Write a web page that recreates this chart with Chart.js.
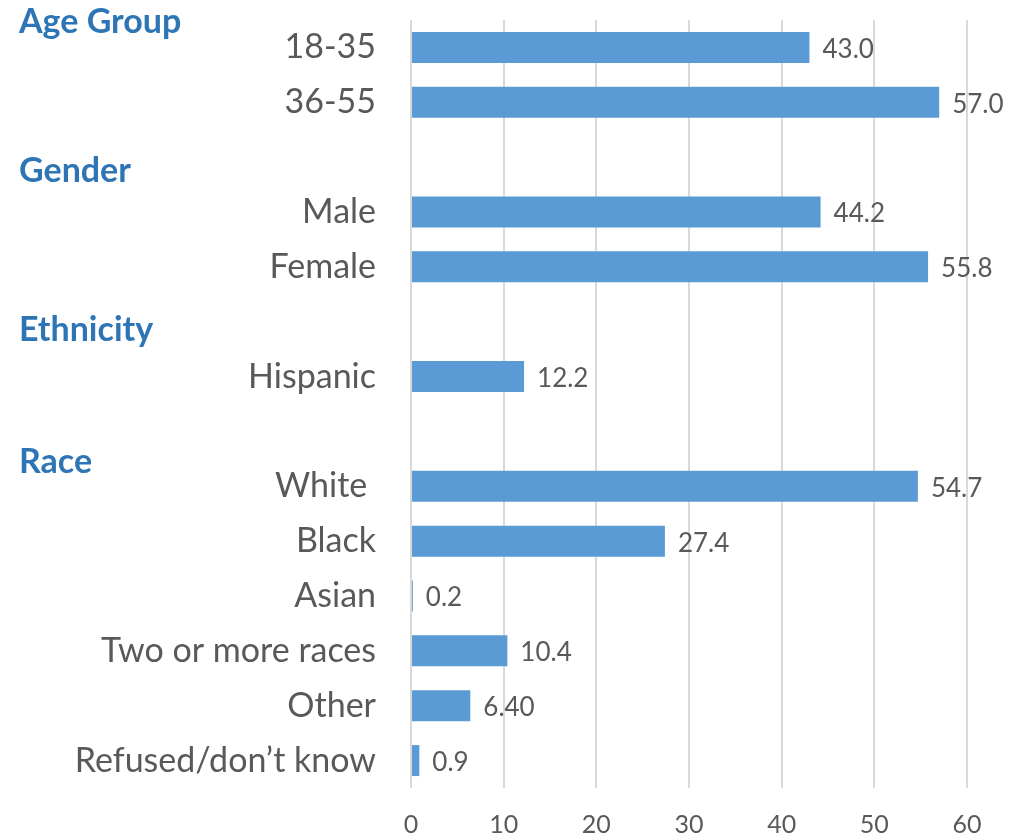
<!DOCTYPE html>
<html lang="en">
<head>
    <meta charset="UTF-8">
    <title>Demographics</title>
    <script src="https://cdn.jsdelivr.net/npm/chart.js"></script>
    <style>
        html, body { margin: 0; padding: 0; background: #fff; }
        .box { width: 1013px; height: 840px; }
    </style>
</head>
<body>
    <div class="box">
        <canvas id="grafico" width="1013" height="840"></canvas>
    </div>

<script>
    // categorias (linhas vazias separam os grupos)
    const categorias = ['18-35', '36-55', '', 'Male', 'Female', '', 'Hispanic', '',
        'White ', 'Black', 'Asian', 'Two or more races', 'Other', 'Refused/don\u2019t know'];
    const valores = [43.0, 57.0, null, 44.2, 55.8, null, 12.2, null,
        54.7, 27.4, 0.2, 10.4, 6.40, 0.9];
    const rotulos = ['43.0', '57.0', '', '44.2', '55.8', '', '12.2', '',
        '54.7', '27.4', '0.2', '10.4', '6.40', '0.9'];
    const ticksX = [0, 10, 20, 30, 40, 50, 60];

    // titulos dos grupos e a posicao (em linhas) onde ficam
    const grupos = ['Age Group', 'Gender', 'Ethnicity', 'Race'];
    const gruposLinha = [-0.46, 2.25, 5.15, 7.56];

    const fonte = 'Lato, "Open Sans", sans-serif';
    const cinza = '#595959';

    const pluginRotulos = {
        id: 'rotulos',
        afterDatasetsDraw(chart) {
            const ctx = chart.ctx;
            const meta = chart.getDatasetMeta(0);
            ctx.save();
            ctx.font = '26px ' + fonte;
            ctx.fillStyle = cinza;
            ctx.textAlign = 'left';
            ctx.textBaseline = 'middle';
            meta.data.forEach((bar, i) => {
                if (valores[i] === null) return;
                ctx.fillText(rotulos[i], bar.x + 13, bar.y + 2);
            });
            ctx.restore();
        }
    };

    const pluginGrupos = {
        id: 'grupos',
        afterDraw(chart) {
            const ctx = chart.ctx;
            const y = chart.scales.y;
            ctx.save();
            ctx.font = 'bold 34px ' + fonte;
            ctx.fillStyle = '#2E75B6';
            ctx.textAlign = 'left';
            ctx.textBaseline = 'middle';
            grupos.forEach((g, i) => {
                ctx.fillText(g, 19, y.getPixelForValue(gruposLinha[i]));
            });
            ctx.restore();
        }
    };

    new Chart(document.getElementById('grafico').getContext('2d'), {
        type: 'bar',
        data: {
            labels: categorias,
            datasets: [{
                data: valores,
                backgroundColor: '#5B9BD5',
                borderWidth: 0,
                barPercentage: 0.565,
                categoryPercentage: 1
            }]
        },
        options: {
            indexAxis: 'y',
            responsive: false,
            animation: false,
            layout: { padding: { top: 20, right: 46, bottom: 0, left: 0 } },
            plugins: {
                legend: { display: false },
                tooltip: { enabled: false }
            },
            scales: {
                x: {
                    min: 0,
                    max: 60,
                    afterBuildTicks: (scale) => { scale.ticks = ticksX.map(v => ({ value: v })); },
                    afterFit: (scale) => { scale.height = 52; },
                    grid: { color: '#D9D9D9', lineWidth: 2, drawTicks: false },
                    border: { display: false },
                    ticks: { color: cinza, font: { family: fonte, size: 25 }, padding: 22 }
                },
                y: {
                    afterFit: (scale) => {
                        scale.width = 411;
                        scale.paddingTop = 0;
                        scale.paddingBottom = 0;
                    },
                    grid: { display: false, drawTicks: false },
                    border: { display: false },
                    ticks: { color: cinza, font: { family: fonte, size: 34 }, padding: 35, autoSkip: false }
                }
            }
        },
        plugins: [pluginRotulos, pluginGrupos]
    });
</script>
</body>
</html>
